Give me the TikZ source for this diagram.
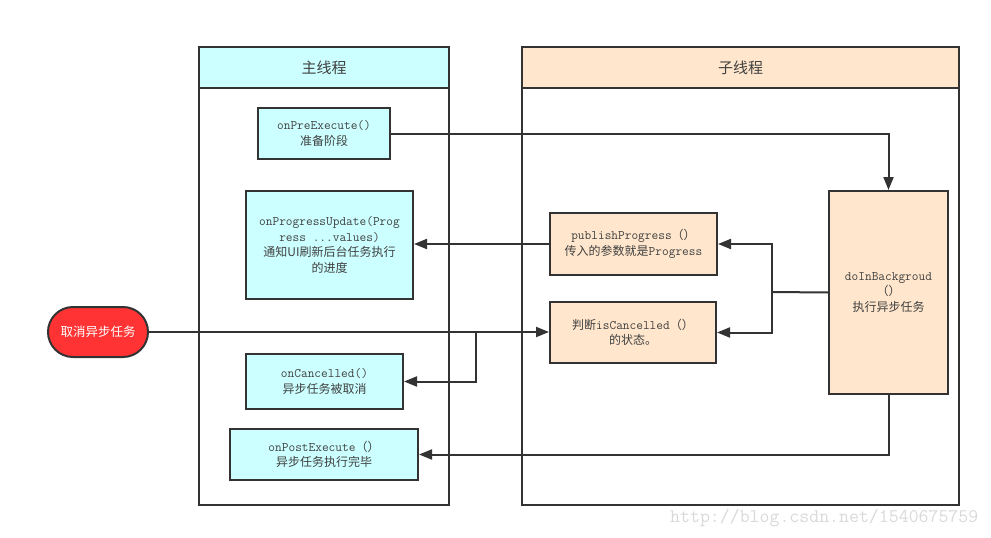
\documentclass[tikz,border=0pt]{standalone}
\usepackage{fontspec}
\newfontfamily\cjk{Noto Sans CJK SC}
\newcommand\mymono{\ttfamily\fontsize{13}{15.5}\selectfont}
\usetikzlibrary{arrows.meta}
\definecolor{cyanfill}{HTML}{CCFFFF}
\definecolor{peach}{HTML}{FFE6CC}
\definecolor{redfill}{HTML}{FF3333}
\definecolor{ink}{HTML}{333333}
\definecolor{txt}{HTML}{404040}
\tikzset{
  base/.style={draw=ink, line width=2pt, inner sep=0pt, align=center, text=txt,
    font=\fontsize{12}{15.5}\selectfont},
  mainbox/.style={base, fill=cyanfill},
  subbox/.style={base, fill=peach},
  lanehead/.style={draw=ink, line width=2pt, inner sep=0pt, text=txt, font=\cjk\fontsize{15}{18}\selectfont},
  lanebody/.style={draw=ink, line width=2pt, inner sep=0pt},
  pill/.style={draw=ink, line width=2pt, fill=redfill, rounded corners=25pt, inner sep=0pt,
    text=white, font=\cjk\fontsize{12.5}{15}\selectfont},
  line/.style={draw=ink, line width=2pt},
  conn/.style={line, -{Triangle[length=13pt,width=10pt]}},
}
\begin{document}
\begin{tikzpicture}[x=1pt,y=-1pt]
\useasboundingbox (0,0) rectangle (991,538);
% lanes
\node[lanebody, minimum width=250, minimum height=458] (mainlane) at (324,276) {};
\node[lanehead, fill=cyanfill, minimum width=250, minimum height=41] (mainhead) at (324,67.5) {主线程};
\node[lanebody, minimum width=437, minimum height=458] (sublane) at (740.5,276) {};
\node[lanehead, fill=peach, minimum width=437, minimum height=41] (subhead) at (740.5,67.5) {子线程};
% coordinates
\coordinate (split) at (772,292);
\coordinate (br) at (476,332);
% nodes
\node[mainbox, minimum width=132, minimum height=51] (pre) at (324,133.5)
  {\mymono onPreExecute()\\ \cjk 准备阶段};
\node[mainbox, minimum width=167, minimum height=108] (prog) at (329.5,245)
  {\mymono onProgressUpdate(Prog\\ \mymono ress ...values)\\ \cjk 通知UI刷新后台任务执行\\ \cjk 的进度};
\node[mainbox, minimum width=157, minimum height=55] (canc) at (324.5,381.5)
  {\mymono onCancelled()\\ \cjk 异步任务被取消};
\node[mainbox, minimum width=188, minimum height=51] (post) at (324,454.5)
  {\mymono onPostExecute{\cjk\fontsize{12}{15.5}\selectfont （）}\\ \cjk 异步任务执行完毕};
\node[pill, minimum width=100, minimum height=50] (cancel) at (98,332) {取消异步任务};
\node[subbox, minimum width=167, minimum height=62] (pub) at (633.5,244)
  {\mymono publishProgress{\cjk\fontsize{12}{15.5}\selectfont （）}\\ {\cjk 传入的参数就是}\mymono Progress};
\node[subbox, minimum width=166, minimum height=61] (isc) at (633,332.5)
  {{\cjk 判断}\mymono isCancelled{\cjk\fontsize{12}{15.5}\selectfont （）}\\ \cjk 的状态。};
\node[subbox, minimum width=119, minimum height=203] (doin) at (888.5,292.5)
  {\mymono doInBackgroud\\ \cjk （）\\ \cjk 执行异步任务};
% connectors
\draw[conn] (pre.east) -| (doin.north);
\draw[line] (doin.west) -- (split);
\draw[conn] (split) |- (pub.east);
\draw[conn] (split) |- (isc.east);
\draw[conn] (pub.west) -- (pub.west -| prog.east);
\draw[conn] (cancel.east) -- (cancel.east -| isc.west);
\draw[conn] (br) |- (canc.east);
\draw[conn] (doin.south) |- (post.east);
% watermark
\node[anchor=west, inner sep=0pt, text=black!15, font=\ttfamily\fontsize{19.3}{21}\selectfont] (wm) at (670,518) {http://blog.csdn.net/1540675759};
\end{tikzpicture}
\end{document}
